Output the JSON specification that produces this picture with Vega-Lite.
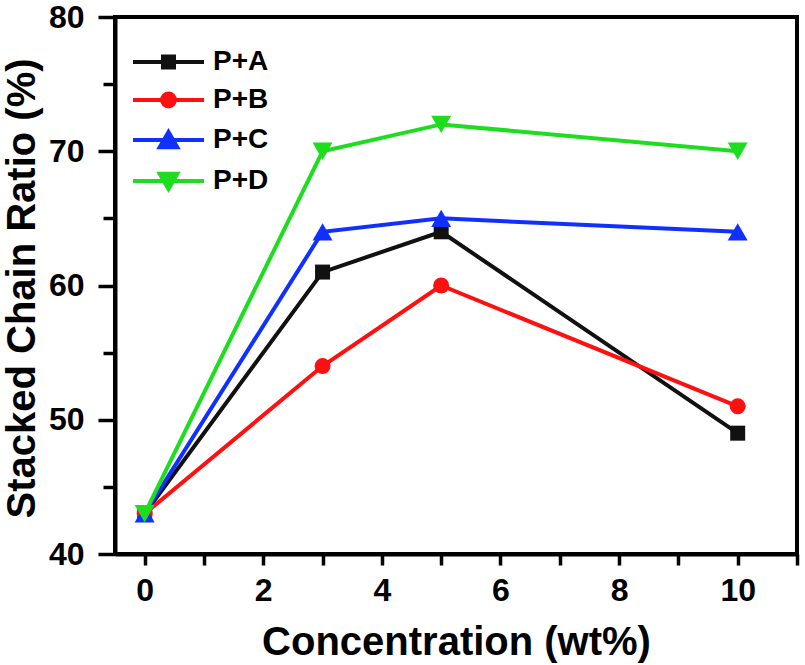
{
  "$schema": "https://vega.github.io/schema/vega-lite/v6.json",
  "width": 682,
  "height": 537,
  "autosize": "none",
  "padding": {"left": 115, "top": 17, "right": 8, "bottom": 111},
  "background": "white",
  "config": {
    "view": {"stroke": "black", "strokeWidth": 4},
    "font": "Liberation Sans"
  },
  "data": {
    "values": [
      {"x": 0, "y": 43, "s": "P+A"},
      {"x": 3, "y": 61, "s": "P+A"},
      {"x": 5, "y": 64, "s": "P+A"},
      {"x": 10, "y": 49, "s": "P+A"},
      {"x": 0, "y": 43, "s": "P+B"},
      {"x": 3, "y": 54, "s": "P+B"},
      {"x": 5, "y": 60, "s": "P+B"},
      {"x": 10, "y": 51, "s": "P+B"},
      {"x": 0, "y": 43, "s": "P+C"},
      {"x": 3, "y": 64, "s": "P+C"},
      {"x": 5, "y": 65, "s": "P+C"},
      {"x": 10, "y": 64, "s": "P+C"},
      {"x": 0, "y": 43, "s": "P+D"},
      {"x": 3, "y": 70, "s": "P+D"},
      {"x": 5, "y": 72, "s": "P+D"},
      {"x": 10, "y": 70, "s": "P+D"}
    ]
  },
  "encoding": {
    "x": {
      "field": "x", "type": "quantitative",
      "scale": {"domain": [-0.5, 11], "nice": false, "zero": false},
      "axis": {
        "title": "Concentration (wt%)",
        "values": [0, 1, 2, 3, 4, 5, 6, 7, 8, 9, 10, 11],
        "labelExpr": "datum.value % 2 === 0 && datum.value <= 10 ? datum.label : ''",
        "grid": false,
        "domainColor": "black", "domainWidth": 4,
        "tickColor": "black", "tickWidth": 3.5, "tickSize": 11,
        "labelFont": "Liberation Sans", "labelFontWeight": "bold", "labelFontSize": 32, "labelColor": "black",
        "labelPadding": 10, "labelFlush": false, "labelOverlap": false,
        "titleFont": "Liberation Sans", "titleFontWeight": "bold", "titleFontSize": 40, "titleColor": "black",
        "titlePadding": 16
      }
    },
    "y": {
      "field": "y", "type": "quantitative",
      "scale": {"domain": [40, 80], "nice": false, "zero": false},
      "axis": {
        "title": "Stacked Chain Ratio (%)",
        "values": [40, 45, 50, 55, 60, 65, 70, 75, 80],
        "labelExpr": "datum.value % 10 === 0 ? datum.label : ''",
        "grid": false,
        "domainColor": "black", "domainWidth": 4,
        "tickColor": "black", "tickWidth": 3.5,
        "tickSize": {"condition": {"test": "datum.value % 10 === 0", "value": 17}, "value": 12},
        "labelFont": "Liberation Sans", "labelFontWeight": "bold", "labelFontSize": 32, "labelColor": "black",
        "labelPadding": 14, "labelFlush": false, "labelOverlap": false,
        "titleFont": "Liberation Sans", "titleFontWeight": "bold", "titleFontSize": 40, "titleColor": "black",
        "titlePadding": 6, "titleY": 271
      }
    },
    "color": {
      "field": "s", "type": "nominal",
      "scale": {"domain": ["P+A", "P+B", "P+C", "P+D"], "range": ["#111111", "#ff1010", "#1030ff", "#1edd1e"]},
      "legend": null
    }
  },
  "layer": [
    {
      "mark": {"type": "line", "strokeWidth": 4},
      "encoding": {
        "color": {
          "field": "s", "type": "nominal",
          "legend": {
            "orient": "none", "legendX": 39.5, "legendY": 31,
            "title": null,
            "labelFont": "Liberation Sans", "labelFontWeight": "bold", "labelFontSize": 28, "labelColor": "black",
            "labelOffset": 30.5,
            "symbolSize": 400, "symbolStrokeWidth": 4,
            "rowPadding": 9,
            "encode": {
              "symbols": {
                "update": {
                  "shape": {"signal": "datum.value === 'P+A' ? 'M-3.55,0H3.55M-0.55,-0.55H0.55V0.55H-0.55Z' : datum.value === 'P+B' ? 'M-3.55,0H3.55M-0.64,0A0.64,0.64 0 1,0 0.64,0A0.64,0.64 0 1,0 -0.64,0Z' : datum.value === 'P+C' ? 'M-3.55,0H3.55M0,-0.8L0.88,0.72H-0.88Z' : 'M-3.55,0H3.55M0,0.8L0.88,-0.72H-0.88Z'"},
                  "fill": {"scale": "color", "field": "value"},
                  "stroke": {"scale": "color", "field": "value"}
                }
              }
            }
          }
        }
      }
    },
    {
      "transform": [{"filter": "datum.s === 'P+A'"}],
      "mark": {"type": "point", "filled": true, "opacity": 1, "shape": "square", "size": 225}
    },
    {
      "transform": [{"filter": "datum.s === 'P+B'"}],
      "mark": {"type": "point", "filled": true, "opacity": 1, "shape": "circle", "size": 256}
    },
    {
      "transform": [{"filter": "datum.s === 'P+C'"}],
      "mark": {"type": "point", "filled": true, "opacity": 1, "shape": "triangle-up", "size": 400}
    },
    {
      "transform": [{"filter": "datum.s === 'P+D'"}],
      "mark": {"type": "point", "filled": true, "opacity": 1, "shape": "triangle-down", "size": 400}
    }
  ]
}
